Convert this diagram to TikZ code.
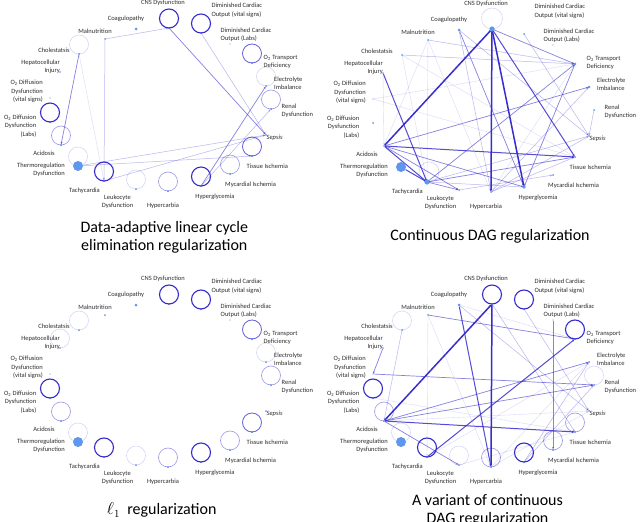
\documentclass[tikz,border=0pt]{standalone}
\usepackage{fontspec}
\setmainfont{Carlito}
\usetikzlibrary{arrows.meta}
\definecolor{eb}{RGB}{55,45,205}
\definecolor{dotc}{RGB}{95,150,238}
\definecolor{labc}{RGB}{45,45,45}
\tikzset{
 vtx/.style={circle,inner sep=0pt,minimum size=2pt,fill=dotc},
 bigvtx/.style={circle,inner sep=0pt,minimum size=10pt},
 lab/.style={inner sep=0pt,text=labc,font=\fontsize{6.5}{8.3}\selectfont},
 captxt/.style={inner sep=0pt,align=center,font=\fontsize{16}{17.7}\selectfont},
 conn/.style={draw=eb,-{Stealth[length=2.4pt,width=2pt]},shorten >=-0.5pt},
 eT/.style={conn,line width=1.5pt},
 eS/.style={conn,line width=1pt,opacity=.85},
 eM/.style={conn,line width=.7pt,opacity=.6},
 eF/.style={conn,line width=.5pt,opacity=.35},
 eV/.style={conn,line width=.4pt,opacity=.18},
 lpA/.style={draw=eb,line width=1.1pt},
 lpAB/.style={draw=eb,line width=.85pt,opacity=.75},
 lpB/.style={draw=eb,line width=.6pt,opacity=.5},
 lpC/.style={draw=eb,line width=.5pt,opacity=.22},
}
\newcommand\vertset[1]{%
 \node[vtx] (#1cns) at (169,28) {};
 \node[vtx] (#1dcov) at (201,33) {};
 \node[vtx,minimum size=1.2pt] (#1dcol) at (230,44) {};
 \node[vtx] (#1o2t) at (252,63) {};
 \node[vtx] (#1ele) at (266,86) {};
 \node[vtx] (#1ren) at (271,109) {};
 \node[vtx] (#1sep) at (266,135) {};
 \node[vtx] (#1tis) at (252,156) {};
 \node[vtx] (#1myc) at (230,174) {};
 \node[vtx] (#1hgl) at (201,186) {};
 \node[vtx] (#1hca) at (168,191) {};
 \node[vtx] (#1leu) at (136,189) {};
 \node[vtx] (#1tac) at (104,181) {};
 \node[bigvtx] (#1the) at (78,166) {};
 \node[vtx] (#1aci) at (61,145) {};
 \node[vtx] (#1odl) at (50,122) {};
 \node[vtx,minimum size=1.4pt] (#1odv) at (50,98) {};
 \node[vtx,minimum size=1.6pt] (#1hep) at (60,72) {};
 \node[vtx] (#1cho) at (79,54) {};
 \node[vtx] (#1mal) at (105,39) {};
 \node[vtx,minimum size=3pt] (#1coa) at (136,29) {};
}
\newcommand\bigdot[1]{\fill[dotc] (#1the.center) circle[radius=5pt];}
\newcommand\labset[1]{%
 \node[lab] (#1Lcns) at (163,3) {CNS Dysfunction};
 \node[lab] (#1Lcoa) at (126,19) {Coagulopathy};
 \node[lab] (#1Lmal) at (95,31) {Malnutrition};
 \node[lab] (#1Lcho) at (54,50) {Cholestatsis};
 \node[lab,anchor=east,align=right] (#1Lhep) at (60,66.5) {Hepatocellular\\Injury};
 \node[lab,anchor=east,align=right] (#1Lodv) at (43,91.5) {O\textsubscript{2} Diffusion\\Dysfunction\\(vital signs)};
 \node[lab,anchor=east,align=right] (#1Lodl) at (36.5,126) {O\textsubscript{2} Diffusion\\Dysfunction\\(Labs)};
 \node[lab] (#1Laci) at (44,153) {Acidosis};
 \node[lab,anchor=east,align=right] (#1Lthe) at (65,170) {Thermoregulation\\Dysfunction};
 \node[lab] (#1Ltac) at (84.5,191) {Tachycardia};
 \node[lab,align=center] (#1Lleu) at (117.5,202) {Leukocyte\\Dysfunction};
 \node[lab] (#1Lhca) at (163,206) {Hypercarbia};
 \node[lab] (#1Lhgl) at (215,197) {Hyperglycemia};
 \node[lab,anchor=west] (#1Lmyc) at (225,185) {Mycardial Ischemia};
 \node[lab,anchor=west] (#1Ltis) at (246.5,166) {Tissue Ischemia};
 \node[lab,anchor=west] (#1Lsep) at (266.5,137.5) {\textit{Sepsis}};
 \node[lab,anchor=west,align=left] (#1Lren) at (281.5,111) {Renal\\Dysfunction};
 \node[lab,anchor=west,align=left] (#1Lele) at (274,83) {Electrolyte\\Imbalance};
 \node[lab,anchor=west,align=left] (#1Lo2t) at (263.5,62) {O\textsubscript{2} Transport\\Deficiency};
 \node[lab,anchor=west,align=left] (#1Ldcol) at (220.5,35) {Diminished Cardiac\\Output (Labs)};
 \node[lab,anchor=west,align=left] (#1Ldcov) at (211.3,10.2) {Diminished Cardiac\\Output (vital signs)};
}
\newcommand\selfloop[2]{\draw[#1] (#2.center) ++(0,-9.5) circle[radius=9.5pt];}
\begin{document}
\begin{tikzpicture}[x=1pt,y=-1pt]
\useasboundingbox (0,0) rectangle (640,522);
\fill[white] (0,0) rectangle (640,522);
% ---------- panel 1 ----------
\begin{scope}
 \vertset{a}
 \foreach \n in {cns,dcov,hgl,tac,odl} {\selfloop{lpA}{a\n}}
 \foreach \n in {o2t,tis} {\selfloop{lpAB}{a\n}}
 \foreach \n in {myc,hca,aci,ren} {\selfloop{lpB}{a\n}}
 \foreach \n in {ele,leu,the,cho} {\selfloop{lpC}{a\n}}
 \draw[eM] (acns) -- (asep);
 \draw[eF] (amal) -- (acns);
 \draw[eF] (amal) -- (atac);
 \draw[eM] (acho) -- (aaci);
 \draw[eV] (acho) -- (atac);
 \draw[eF] (adcov) -- (asep);
 \draw[eM] (ahgl) -- (aele);
 \draw[eF] (ahgl) -- (aren);
 \draw[eF] (athe) -- (asep);
 \draw[eF] (athe) -- (atis);
 \draw[eF] (atac) -- (asep);
 \bigdot{a}
 \labset{a}
 \node[captxt] (acap) at (164.3,237.2) {Data-adaptive linear cycle\\elimination regularization};
\end{scope}
% ---------- panel 2 ----------
\begin{scope}[shift={(323,1)}]
 \vertset{b}
 \draw[lpC] (bcns.center) ++(0,-10.5) circle[radius=10.5pt];
 \draw[lpC] (btac.center) ++(2,-10) circle[radius=10pt];
 \draw[eV] (bmal) -- (baci);
 \draw[eV] (bmal) -- (btac);
 \draw[eV] (bmal) -- (bhca);
 \draw[eV] (bcho) -- (btis);
 \draw[eV] (bcho) -- (btac);
 \draw[eV] (bodv) -- (bo2t);
 \draw[eV] (bodv) -- (btis);
 \draw[eV] (bhca) -- (bo2t);
 \draw[eV] (bhep) -- (baci);
 \draw[eF] (bmal) -- (bo2t);
 \draw[eF] (bcho) -- (bo2t);
 \draw[eF] (bcoa) -- (bhca);
 \draw[eF] (bcoa) -- (bsep);
 \draw[eF] (bdcov) -- (bsep);
 \draw[eF] (bren) -- (bsep);
 \draw[eF] (bhca) -- (btis);
 \draw[eF] (bhca) -- (bele);
 \draw[eF] (bhca) -- (bsep);
 \draw[eF] (bsep) -- (btac);
 \draw[eF] (bhgl) -- (btac);
 \draw[eF] (bleu) -- (bmyc);
 \draw[eM] (btac) -- (bo2t);
 \draw[eM] (btac) -- (btis);
 \draw[eM] (btac) -- (bleu);
 \draw[eM] (bcns) -- (bo2t);
 \draw[eM] (bo2t) -- (bhgl);
 \draw[eM] (bcoa) -- (bhgl);
 \draw[eM] (baci) -- (bleu);
 \draw[eM] (baci) -- (bele);
 \draw[eM] (baci) -- (bhgl);
 \draw[eS] (baci) -- (btis);
 \draw[eS] (bhep) -- (btac);
 \draw[eS] (bthe) -- (btac);
 \draw[eS] (bcns) -- (btis);
 \draw[eS] (baci) -- (btac);
 \draw[eT] (baci) -- (bcns);
 \draw[eT] (bcns) -- (bhgl);
 \draw[eT] (bcns) -- (bhca);
 \fill[dotc] (bcns) circle[radius=2.6pt];
 \fill[dotc] (btac) circle[radius=2.6pt];
 \fill[dotc] (bhgl) circle[radius=1.8pt];
 \fill[dotc] (bo2t) circle[radius=1.4pt];
 \fill[dotc] (bele) circle[radius=1.4pt];
 \bigdot{b}
 \labset{b}
 \node[captxt] (bcap) at (167,235.7) {Continuous DAG regularization};
\end{scope}
% ---------- panel 3 ----------
\begin{scope}[shift={(0,276)}]
 \vertset{c}
 \foreach \n in {cns,dcov,hgl,tac,odl} {\selfloop{lpA}{c\n}}
 \foreach \n in {o2t,tis} {\selfloop{lpAB}{c\n}}
 \foreach \n in {myc,hca,aci,ren} {\selfloop{lpB}{c\n}}
 \foreach \n in {ele,leu,the,cho,hep} {\selfloop{lpC}{c\n}}
 \bigdot{c}
 \labset{c}
 \node[captxt] (ccap) at (161.7,234.3) {$\ell_1$\ \ regularization};
\end{scope}
% ---------- panel 4 ----------
\begin{scope}[shift={(323,276)}]
 \vertset{d}
 \foreach \n in {cns,dcov,hgl,tac,odl,o2t} {\selfloop{lpA}{d\n}}
 \foreach \n in {tis,myc,hca,aci} {\selfloop{lpB}{d\n}}
 \foreach \n in {ren,leu,the,cho} {\selfloop{lpC}{d\n}}
 \draw[eV] (dmal) -- (dtac);
 \draw[eV] (dmal) -- (dhca);
 \draw[eV] (dcoa) -- (do2t);
 \draw[eV] (daci) -- (dsep);
 \draw[eV] (dhca) -- (dsep);
 \draw[eV] (dleu) -- (dtis);
 \draw[eV] (dtac) -- (dele);
 \draw[eV] (dhca) -- (dele);
 \draw[eV] (dodl) -- (dtis);
 \draw[eF] (dhgl) -- (dele);
 \draw[eF] (dhgl) -- (dren);
 \draw[eF] (dcns) -- (dtis);
 \draw[eF] (dcoa) -- (dsep);
 \draw[eF] (ddcov) -- (dsep);
 \draw[eF] (dcho) -- (daci);
 \draw[eM] (daci) -- (dren);
 \draw[eM] (daci) -- (dele);
 \draw[eM] (daci) -- (dleu);
 \draw[eM] (dmal) -- (do2t);
 \draw[eM] (dodv) -- (dren);
 \draw[eM] (dhep) -- (dodv);
 \draw[eM] (ddcol) -- (dmyc);
 \draw[eS] (daci) -- (dtis);
 \draw[eS] (dcoa) -- (dhca);
 \draw[eS] (dtac) -- (do2t);
 \draw[eT] (daci) -- (dcns);
 \draw[eT] (dcns) -- (dhca);
 \bigdot{d}
 \labset{d}
 \node[captxt] (dcap) at (164.5,234.5) {A variant of continuous\\DAG regularization};
\end{scope}
\end{tikzpicture}
\end{document}
